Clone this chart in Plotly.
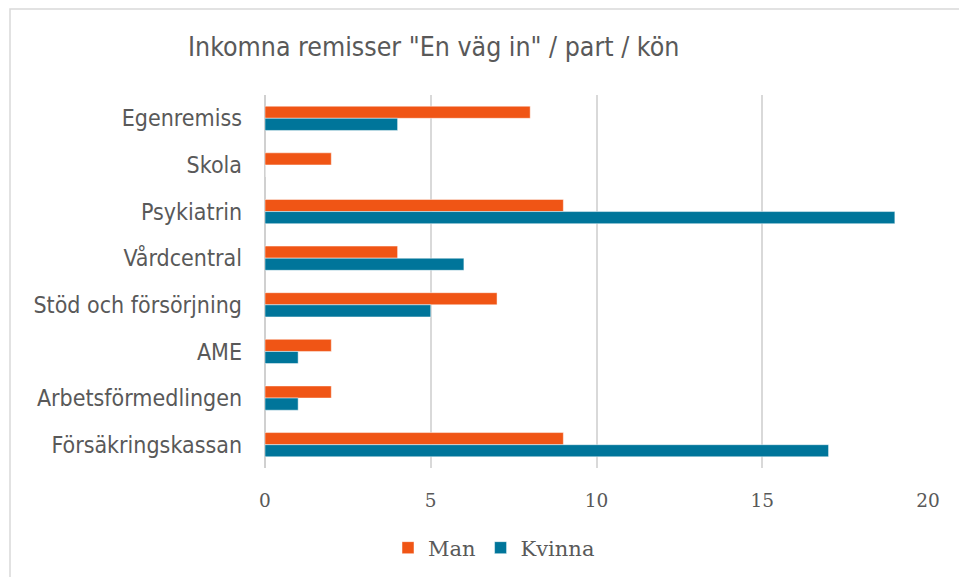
import plotly.graph_objects as go

categories = ["Egenremiss", "Skola", "Psykiatrin", "Vårdcentral",
              "Stöd och försörjning", "AME", "Arbetsförmedlingen", "Försäkringskassan"]
man = [8, 2, 9, 4, 7, 2, 2, 9]
kvinna = [4, 0, 19, 6, 5, 1, 1, 17]
x_ticks = [0, 5, 10, 15, 20]
title_text = 'Inkomna remisser "En väg in" / part / kön'

W, H = 959, 577
L, R, T, B = 265, 31, 95, 109
pw, ph = W - L - R, H - T - B

fig = go.Figure()
fig.add_trace(go.Bar(y=categories, x=man, name="Man", orientation="h",
                     marker=dict(color="#F05515", line=dict(color="rgba(255,255,255,0.6)", width=0.8))))
fig.add_trace(go.Bar(y=categories, x=kvinna, name="Kvinna", orientation="h",
                     marker=dict(color="#00759A", line=dict(color="rgba(255,255,255,0.6)", width=0.8))))

# outer chart frame
fig.add_shape(type="rect", xref="paper", yref="paper",
              x0=(10 - L) / pw, x1=(W + 20 - L) / pw,
              y0=(H - B - (H + 20)) / ph, y1=(H - B - 9) / ph,
              line=dict(color="#D9D9D9", width=1.5), fillcolor="rgba(0,0,0,0)", layer="below")

fig.update_layout(
    width=W, height=H,
    margin=dict(l=L, r=R, t=T, b=B),
    paper_bgcolor="white", plot_bgcolor="white",
    barmode="group", bargap=0.48, bargroupgap=0,
    title=dict(text=title_text, x=188 / W, xanchor="left", xref="container",
               y=1 - 47 / H, yanchor="middle", yref="container",
               font=dict(family="DejaVu Sans Condensed, DejaVu Sans", size=26.5, color="#595959")),
    legend=dict(orientation="h", x=494 / W, xanchor="center", xref="container",
                y=1 - 548 / H, yanchor="middle", yref="container",
                font=dict(family="DejaVu Serif", size=21, color="#595959"),
                itemwidth=30, tracegroupgap=0, traceorder="normal"),
    showlegend=True,
)
fig.update_xaxes(range=[0, 20], tickvals=x_ticks, ticktext=[str(v) for v in x_ticks],
                 showgrid=True, gridcolor="#D9D9D9", gridwidth=1.5,
                 zeroline=True, zerolinecolor="#D0D0D0", zerolinewidth=2,
                 showline=False, ticks="", ticklabelstandoff=19,
                 tickfont=dict(family="DejaVu Serif", size=18.5, color="#595959"))
fig.update_yaxes(autorange="reversed", showgrid=False, showline=False, ticks="",
                 ticklabelstandoff=22,
                 tickfont=dict(family="DejaVu Sans Condensed, DejaVu Sans", size=23, color="#595959"))

fig.write_html("out.html", config={"displayModeBar": False},
               post_script="document.body.style.margin='0';")
